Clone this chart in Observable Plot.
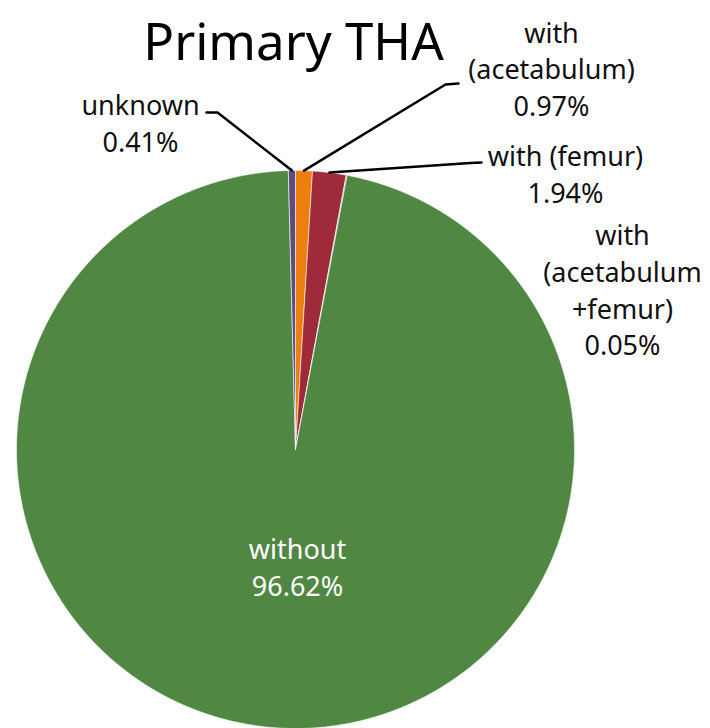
<!DOCTYPE html>
<html>
<head>
<meta charset="utf-8">
<script src="https://cdn.jsdelivr.net/npm/d3@7"></script>
<script src="https://cdn.jsdelivr.net/npm/@observablehq/plot@0.6"></script>
<style>
  html, body { margin: 0; padding: 0; background: #fff; }
  #chart svg { display: block; }
</style>
</head>
<body>
<div id="chart"></div>
<script>
// ---- data (slice order as drawn, clockwise from 12 o'clock) ----
const categories = ["with (acetabulum)", "with (femur)", "with (acetabulum+femur)", "without", "unknown"];
const labelTexts = ["with\n(acetabulum)", "with (femur)", "with\n(acetabulum\n+femur)", "without", "unknown"];
const percents = [0.97, 1.94, 0.05, 96.62, 0.41];
const title = "Primary THA";

// ---- style / layout ----
const colors = ["#EE7F0E", "#9E2A3A", "#5B7FA8", "#4F8743", "#5E4C7E"];
const W = 710, H = 728;
const CX = 295, CY = 449, R = 279;
// label block centres (pixels) and leader elbows
const labelPos = [
  {x: 551, y: 67, fill: "#111"},
  {x: 565, y: 172, fill: "#111"},
  {x: 622, y: 288, fill: "#111"},
  {x: 297, y: 565, fill: "#fff"},
  {x: 140, y: 121, fill: "#111"}
];
const leaderPaths = [
  [[445, 84], [458, 83]],
  [[470, 162.5], [481, 162]],
  null,
  null,
  [[217, 112], [206, 112]]
];

const total = d3.sum(percents);
const pt = (frac, r) => {
  const a = frac * 2 * Math.PI;
  return [CX + r * Math.sin(a), CY - r * Math.cos(a)];
};

// slice polygons built from cumulative shares
const slicePts = [];
let acc = 0;
categories.forEach((c, i) => {
  const f0 = acc / total, f1 = (acc + percents[i]) / total;
  acc += percents[i];
  slicePts.push({key: c, x: CX, y: CY});
  const n = Math.max(2, Math.ceil((f1 - f0) * 1440));
  for (let k = 0; k <= n; k++) {
    const [x, y] = pt(f0 + (f1 - f0) * k / n, R);
    slicePts.push({key: c, x, y});
  }
  slicePts.push({key: c, x: CX, y: CY});
});

// leaders
const leaderPts = [];
acc = 0;
categories.forEach((c, i) => {
  const mid = (acc + percents[i] / 2) / total;
  acc += percents[i];
  if (!leaderPaths[i]) return;
  const [sx, sy] = pt(mid, R);
  leaderPts.push({key: c, x: sx, y: sy});
  leaderPaths[i].forEach(([x, y]) => leaderPts.push({key: c, x, y}));
});

const labels = categories.map((c, i) => ({
  key: c,
  text: labelTexts[i] + "\n" + percents[i].toFixed(2) + "%",
  x: labelPos[i].x, y: labelPos[i].y, fill: labelPos[i].fill
}));

const chart = Plot.plot({
  width: W, height: H,
  margin: 0,
  style: {fontFamily: "'Noto Sans', sans-serif", background: "#fff"},
  x: {domain: [0, W], range: [0, W], axis: null},
  y: {domain: [0, H], range: [0, H], axis: null},
  color: {domain: categories, range: colors},
  marks: [
    Plot.line(slicePts, {x: "x", y: "y", z: "key", fill: "key", stroke: "white", strokeWidth: 0.6, curve: "linear"}),
    Plot.line(leaderPts, {x: "x", y: "y", z: "key", stroke: "#000", strokeWidth: 2.5, strokeLinejoin: "round"}),
    Plot.text(labels, {x: "x", y: "y", text: "text", fill: d => d.fill, fontSize: 27, lineHeight: 1.36, lineAnchor: "middle", textAnchor: "middle"}),
    Plot.text([title], {x: () => 293, y: () => 43, text: d => d, fontSize: 51, fill: "#000", lineAnchor: "middle", textAnchor: "middle"})
  ]
});
document.getElementById("chart").appendChild(chart);
</script>
</body>
</html>
